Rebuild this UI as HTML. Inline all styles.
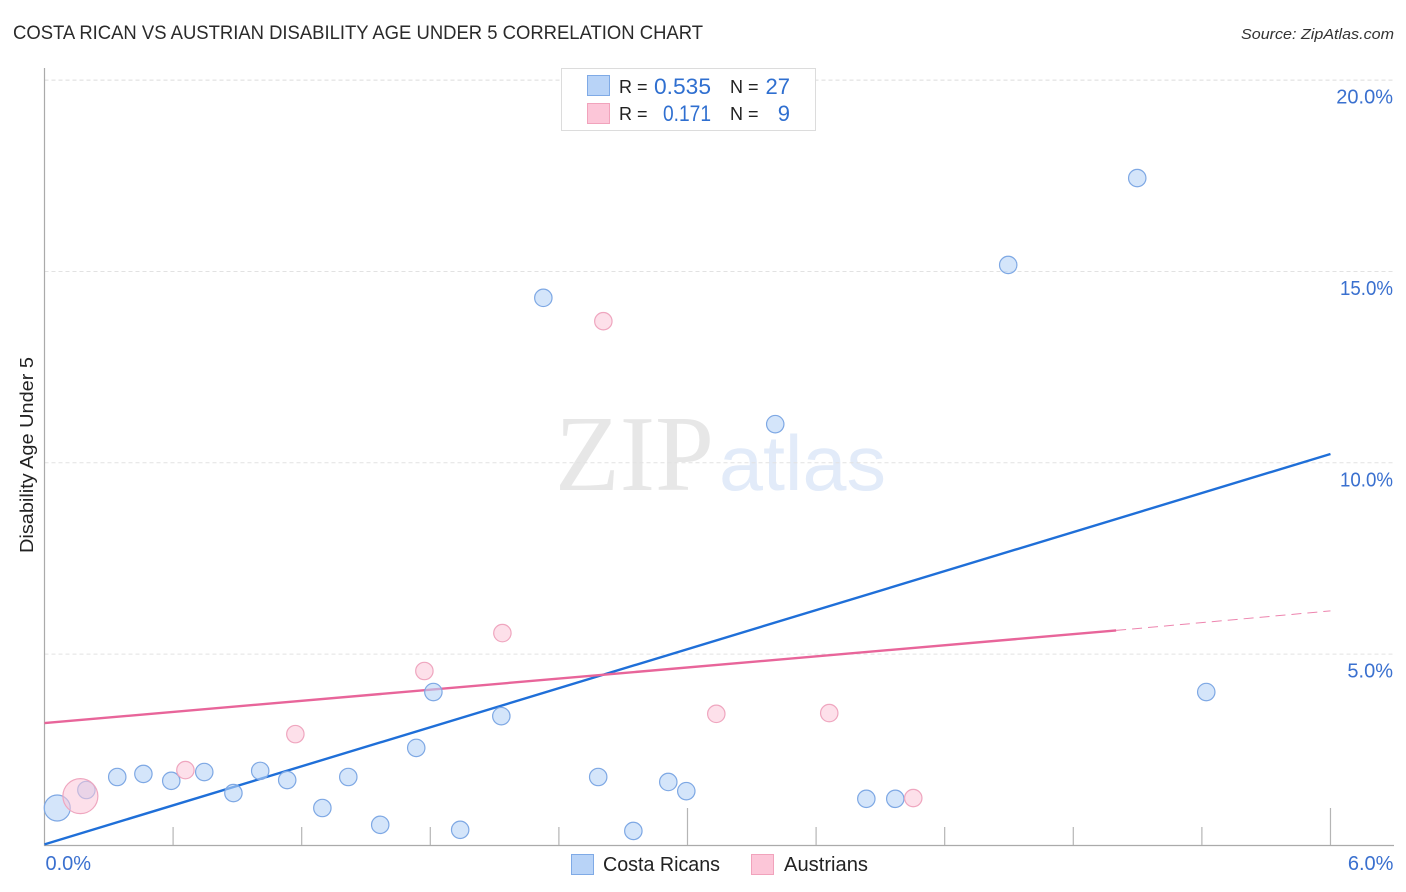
<!DOCTYPE html>
<html>
<head>
<meta charset="utf-8">
<title>Costa Rican vs Austrian Disability Age Under 5 Correlation Chart</title>
<style>
html,body{margin:0;padding:0;background:#fff;width:1406px;height:892px;overflow:hidden}
svg{display:block;font-family:"Liberation Sans",sans-serif}
</style>
</head>
<body>
<svg id="chart" width="1406" height="892" viewBox="0 0 1406 892" xmlns="http://www.w3.org/2000/svg">
  <rect width="1406" height="892" fill="#fff"/>
  <text x="13" y="39" font-size="19" fill="#2a2a2a" textLength="690" lengthAdjust="spacingAndGlyphs">COSTA RICAN VS AUSTRIAN DISABILITY AGE UNDER 5 CORRELATION CHART</text>
  <text x="1241" y="39" font-size="15" font-style="italic" fill="#333" textLength="153" lengthAdjust="spacingAndGlyphs">Source: ZipAtlas.com</text>
  <g>
    <text x="555" y="490" font-family="'Liberation Serif',serif" font-size="108" fill="#e7e7e7" textLength="159" lengthAdjust="spacingAndGlyphs">ZIP</text>
    <text x="719" y="490" font-size="78" fill="#e2ebf9" textLength="167" lengthAdjust="spacingAndGlyphs">atlas</text>
  </g>
  <g id="grid"></g>
  <g id="axes"></g>
  <g id="trends"></g>
  <g id="points"></g>
  <text transform="translate(33,553) rotate(-90)" font-size="18" fill="#222" textLength="196" lengthAdjust="spacingAndGlyphs">Disability Age Under 5</text>
  <g>
    <rect x="561.5" y="68.5" width="254" height="62" fill="#fff" stroke="#dcdcdc"/>
    <rect x="587.5" y="75.5" width="22" height="20" fill="#b8d3f7" stroke="#7faae6"/>
    <rect x="587.5" y="103.5" width="22" height="20" fill="#fcc6d8" stroke="#f1a3bc"/>
    <g font-size="18" fill="#222">
      <text x="619" y="93">R =</text>
      <text x="619" y="120">R =</text>
      <text x="730" y="93">N =</text>
      <text x="730" y="120">N =</text>
    </g>
    <g font-size="22" fill="#2f6fd0">
      <text x="654" y="94" textLength="57" lengthAdjust="spacingAndGlyphs">0.535</text>
      <text x="663" y="121" textLength="48" lengthAdjust="spacingAndGlyphs">0.171</text>
      <text x="790" y="94" text-anchor="end">27</text>
      <text x="790" y="121" text-anchor="end">9</text>
    </g>
  </g>
  <g>
    <rect x="571.5" y="854.5" width="22" height="20" fill="#b8d3f7" stroke="#7faae6"/>
    <text x="603" y="871" font-size="20" fill="#222" textLength="117" lengthAdjust="spacingAndGlyphs">Costa Ricans</text>
    <rect x="751.5" y="854.5" width="22" height="20" fill="#fcc6d8" stroke="#f1a3bc"/>
    <text x="784" y="871" font-size="20" fill="#222" textLength="84" lengthAdjust="spacingAndGlyphs">Austrians</text>
  </g>
</svg>
<script>
var yTickValues = [5, 10, 15, 20];
var yTickLabels = ["5.0%", "10.0%", "15.0%", "20.0%"];
var xTickValues = [0.6, 1.2, 1.8, 2.4, 3.0, 3.6, 4.2, 4.8, 5.4, 6.0];
var xEndValues = [0, 6];
var xEndLabels = ["0.0%", "6.0%"];

var blueX = [0.058, 0.194, 0.338, 0.460, 0.590, 0.744, 0.880, 1.005, 1.131, 1.295, 1.416, 1.565, 1.733, 1.813, 1.938, 2.130, 2.326, 2.582, 2.746, 2.909, 2.993, 3.408, 3.833, 3.968, 4.495, 5.097, 5.419];
var blueY = [0.98, 1.45, 1.79, 1.87, 1.69, 1.92, 1.37, 1.95, 1.71, 0.98, 1.79, 0.54, 2.55, 4.01, 0.41, 3.38, 14.31, 1.79, 0.38, 1.66, 1.42, 11.01, 1.22, 1.22, 15.17, 17.44, 4.01];
var blueSize = [3, 2, 2, 2, 2, 2, 2, 2, 2, 2, 2, 2, 2, 2, 2, 2, 2, 2, 2, 2, 2, 2, 2, 2, 2, 2, 2];

var pinkX = [0.166, 0.656, 1.169, 1.771, 2.135, 2.606, 3.133, 3.660, 4.052];
var pinkY = [1.29, 1.97, 2.91, 4.56, 5.55, 13.70, 3.44, 3.46, 1.24];
var pinkSize = [4, 2, 2, 2, 2, 2, 2, 2, 2];

var blueTrendX = [0, 6];
var blueTrendY = [0.03, 10.23];
var pinkTrendX = [0, 5];
var pinkTrendY = [3.2, 5.62];
var pinkDashX = [5, 6];
var pinkDashY = [5.62, 6.13];

var NS = "http://www.w3.org/2000/svg";
function sx(v) { return 44.5 + v * 214.33; }
function sy(v) { return 845.5 - v * 38.27; }
function radius(s) { return s === 4 ? 17.5 : s === 3 ? 13 : 8.7; }
function make(tag, attrs, parent) {
  var el = document.createElementNS(NS, tag);
  for (var k in attrs) { el.setAttribute(k, attrs[k]); }
  parent.appendChild(el);
  return el;
}
var grid = document.getElementById("grid");
var axes = document.getElementById("axes");
var trends = document.getElementById("trends");
var points = document.getElementById("points");

var topLine = make("line", {x1: 44.5, x2: 1393, y1: sy(20), y2: sy(20), stroke: "#dcdcdc", "stroke-dasharray": "4 3"}, grid);


yTickValues.forEach(function (v, i) {
  if (v !== 20) {
    var g = make("line", {x1: 44.5, x2: 1393, y1: sy(v), y2: sy(v), stroke: "#e2e2e2", "stroke-dasharray": "4 3"}, grid);
    
    
  }
  var narrow = yTickLabels[i].charAt(0) === "1";
  var labelAttrs = {x: narrow ? 1340 : 1393, y: sy(v) + 23.5, "text-anchor": narrow ? "start" : "end", "font-size": 20, fill: "#3a70cf"};
  if (narrow) {
    labelAttrs.textLength = 53;
    labelAttrs.lengthAdjust = "spacingAndGlyphs";
  }
  var t = make("text", labelAttrs, axes);
  t.textContent = yTickLabels[i];
  
  
});

var yAxis = make("line", {x1: 44.5, x2: 44.5, y1: 68, y2: 846, stroke: "#aaa", "stroke-width": 1.2}, axes);


var xAxis = make("line", {x1: 44, x2: 1394, y1: 845.5, y2: 845.5, stroke: "#aaa", "stroke-width": 1.2}, axes);


xTickValues.forEach(function (v) {
  var major = Math.abs(v - 3) < 0.001 || Math.abs(v - 6) < 0.001;
  var tk = make("line", {x1: sx(v), x2: sx(v), y1: major ? 808 : 827, y2: 845, stroke: "#b5b5b5", "stroke-width": 1.2}, axes);
  
  
});
xEndValues.forEach(function (v, i) {
  var t = make("text", {x: i === 0 ? sx(v) + 1 : sx(v) + 63, y: 870, "text-anchor": i === 0 ? "start" : "end", "font-size": 20, fill: "#3a70cf"}, axes);
  t.textContent = xEndLabels[i];
  
  
});

blueX.forEach(function (v, i) {
  var c = make("circle", {cx: sx(v) + 0.3, cy: sy(blueY[i]), r: radius(blueSize[i]), fill: "#b8d3f7", "fill-opacity": 0.6, stroke: "#7ea8e4", "stroke-width": 1.2}, points);
  
  
});
pinkX.forEach(function (v, i) {
  var c = make("circle", {cx: sx(v) + 0.3, cy: sy(pinkY[i]), r: radius(pinkSize[i]), fill: "#fcc6d8", "fill-opacity": 0.55, stroke: "#efa6bf", "stroke-width": 1.2}, points);
  
  
});

var blueTrend = make("line", {x1: sx(blueTrendX[0]), y1: sy(blueTrendY[0]), x2: sx(blueTrendX[1]), y2: sy(blueTrendY[1]), stroke: "#1f6fd8", "stroke-width": 2.4}, trends);


var pinkTrend = make("line", {x1: sx(pinkTrendX[0]), y1: sy(pinkTrendY[0]), x2: sx(pinkTrendX[1]), y2: sy(pinkTrendY[1]), stroke: "#e8659a", "stroke-width": 2.4}, trends);


var pinkDash = make("line", {x1: sx(pinkDashX[0]), y1: sy(pinkDashY[0]), x2: sx(pinkDashX[1]), y2: sy(pinkDashY[1]), stroke: "#e8659a", "stroke-width": 1, "stroke-dasharray": "10 6", "stroke-opacity": 0.8}, trends);


</script>
</body>
</html>
